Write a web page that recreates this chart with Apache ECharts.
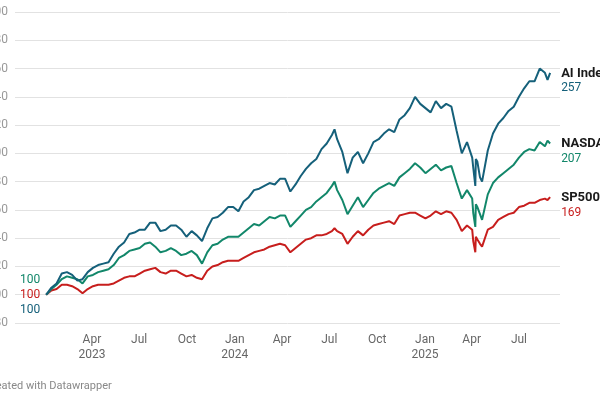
<!DOCTYPE html>
<html>
<head>
<meta charset="utf-8">
<script src="https://cdn.jsdelivr.net/npm/echarts@6/dist/echarts.min.js"></script>
<style>
html,body{margin:0;padding:0;background:#fff;}
#chart{width:600px;height:400px;}
</style>
</head>
<body>
<div id="chart"></div>
<script>
const dates = [
'2023-01-03','2023-01-13','2023-01-23','2023-02-02','2023-02-12','2023-02-22','2023-03-04','2023-03-14','2023-03-24','2023-04-03','2023-04-13','2023-04-23','2023-05-03','2023-05-13','2023-05-23','2023-06-02','2023-06-12','2023-06-22','2023-07-02','2023-07-12','2023-07-22','2023-08-01','2023-08-11','2023-08-21','2023-08-31','2023-09-10','2023-09-20','2023-09-30','2023-10-10','2023-10-20','2023-10-30','2023-11-09','2023-11-19','2023-11-29','2023-12-09','2023-12-19','2023-12-29',
'2024-01-08','2024-01-18','2024-01-28','2024-02-07','2024-02-17','2024-02-27','2024-03-08','2024-03-18','2024-03-28','2024-04-07','2024-04-17','2024-04-27','2024-05-07','2024-05-17','2024-05-27','2024-06-06','2024-06-16','2024-06-26','2024-07-06','2024-07-11','2024-07-16','2024-07-26','2024-08-05','2024-08-15','2024-08-25','2024-09-04','2024-09-14','2024-09-24','2024-10-04','2024-10-14','2024-10-24','2024-11-03','2024-11-13','2024-11-23','2024-12-03','2024-12-13','2024-12-23',
'2025-01-02','2025-01-12','2025-01-22','2025-02-01','2025-02-11','2025-02-21','2025-03-03','2025-03-13','2025-03-23','2025-04-02','2025-04-04','2025-04-08','2025-04-09','2025-04-12','2025-04-17','2025-04-21','2025-05-02','2025-05-12','2025-05-22','2025-06-01','2025-06-11','2025-06-21','2025-07-01','2025-07-11','2025-07-21','2025-07-31','2025-08-10','2025-08-20','2025-08-25','2025-08-30'
];
const aiIndex = [
100,105,108,115,116,114,110,111,116,119,121,122,123,129,134,137,143,144,146,146,151,151,145,146,149,149,146,141,145,142,138,147,154,155,158,162,162,
159,166,169,174,175,177,179,178,182,182,173,178,184,189,193,196,203,207,213,217,210,201,186,197,201,193,200,208,210,214,217,215,224,227,232,240,235,
232,229,237,232,235,233,216,200,208,197,190,177,196,194,183,180,202,214,221,225,230,233,240,246,251,251,260,257,252,257
];
const nasdaq = [
100,104,107,111,113,112,111,108,113,114,116,117,118,121,126,128,131,132,133,136,137,134,130,131,133,131,128,129,131,128,122,130,135,136,139,141,141,
141,144,147,150,149,152,155,154,156,156,148,152,156,160,162,166,169,172,177,180,174,167,157,163,169,162,167,172,175,177,179,177,183,186,189,193,190,
186,189,192,188,190,191,179,168,174,168,158,148,164,162,157,153,171,179,183,186,189,192,197,201,203,202,208,205,209,207
];
const sp500 = [
100,103,104,107,107,106,104,101,104,106,107,107,107,108,110,112,113,113,115,117,118,119,116,115,117,117,115,113,114,112,111,117,120,121,123,124,124,
124,126,128,130,131,132,134,135,136,135,130,133,136,139,140,142,142,143,145,147,145,143,136,141,145,142,146,149,150,151,152,150,156,157,158,158,156,
154,156,159,157,159,158,153,145,149,146,138,130,141,139,136,134,146,148,153,155,157,158,162,163,165,165,167,168,167,169
];
const seriesNames = ['AI Index', 'NASDAQ', 'SP500'];
const seriesColors = ['#15607a', '#12876a', '#c71e1d'];
const startLabelOffsets = [15, -15, 0];
const xTickDates = ['2023-04-01','2023-07-01','2023-10-01','2024-01-01','2024-04-01','2024-07-01','2024-10-01','2025-01-01','2025-04-01','2025-07-01'];
const xTickLabels = ['Apr\n2023','Jul','Oct','Jan\n2024','Apr','Jul','Oct','Jan\n2025','Apr','Jul'];
const yTicks = [80, 300, 20];

function toTs(s) { const p = s.split('-').map(Number); return Date.UTC(p[0], p[1] - 1, p[2]); }
const tickTs = xTickDates.map(toTs);

const allValues = [aiIndex, nasdaq, sp500];
const series = allValues.map((vals, si) => ({
  name: seriesNames[si],
  type: 'line',
  showSymbol: true,
  showAllSymbol: true,
  symbol: 'circle',
  symbolSize: 0,
  z: 10 - si,
  lineStyle: { width: 2, color: seriesColors[si] },
  itemStyle: { color: seriesColors[si] },
  label: { show: false },
  emphasis: { disabled: true },
  data: vals.map((v, i) => {
    const item = { value: [toTs(dates[i]), v] };
    if (i === 0) {
      item.label = {
        show: true, position: 'left', distance: 6,
        offset: [0, startLabelOffsets[si]],
        formatter: String(v), color: seriesColors[si],
        fontFamily: 'Roboto', fontSize: 12
      };
    }
    return item;
  }),
  endLabel: {
    show: true,
    distance: 11,
    offset: [0, 8],
    formatter: p => '{n|' + seriesNames[si] + '}\n{v|' + Math.round(p.value[1]) + '}',
    rich: {
      n: { fontFamily: 'Roboto', fontWeight: 'bold', fontSize: 13, color: '#1a1a1a', lineHeight: 15 },
      v: { fontFamily: 'Roboto', fontSize: 12, color: seriesColors[si], lineHeight: 15 }
    }
  }
}));

const chart = echarts.init(document.getElementById('chart'), null, { renderer: 'canvas' });
chart.setOption({
  animation: false,
  backgroundColor: '#ffffff',
  textStyle: { fontFamily: 'Roboto' },
  title: {
    text: 'Created with Datawrapper',
    left: -15, top: 381, padding: 0,
    textStyle: { fontFamily: 'Roboto', fontSize: 11, fontWeight: 'normal', color: '#888' }
  },
  grid: { left: 15, right: 40, top: 12, bottom: 77, outerBoundsMode: 'none', containLabel: false },
  xAxis: {
    type: 'value',
    min: toTs('2022-11-04'),
    max: toTs('2025-09-18'),
    axisLine: { show: false },
    axisTick: { show: false },
    splitLine: { show: false },
    axisLabel: {
      customValues: tickTs,
      margin: 9,
      color: '#666',
      fontFamily: 'Roboto',
      fontSize: 12,
      lineHeight: 15,
      showMinLabel: true,
      showMaxLabel: true,
      hideOverlap: false,
      formatter: val => { const k = tickTs.indexOf(val); return k >= 0 ? xTickLabels[k] : ''; }
    }
  },
  yAxis: {
    type: 'value',
    min: yTicks[0], max: yTicks[1], interval: yTicks[2],
    axisLine: { show: false },
    axisTick: { show: false },
    splitLine: { lineStyle: { color: '#e2e2e2', width: 1 } },
    axisLabel: { color: '#999', fontFamily: 'Roboto', fontSize: 12, margin: 7 }
  },
  series: series
});
</script>
</body>
</html>
